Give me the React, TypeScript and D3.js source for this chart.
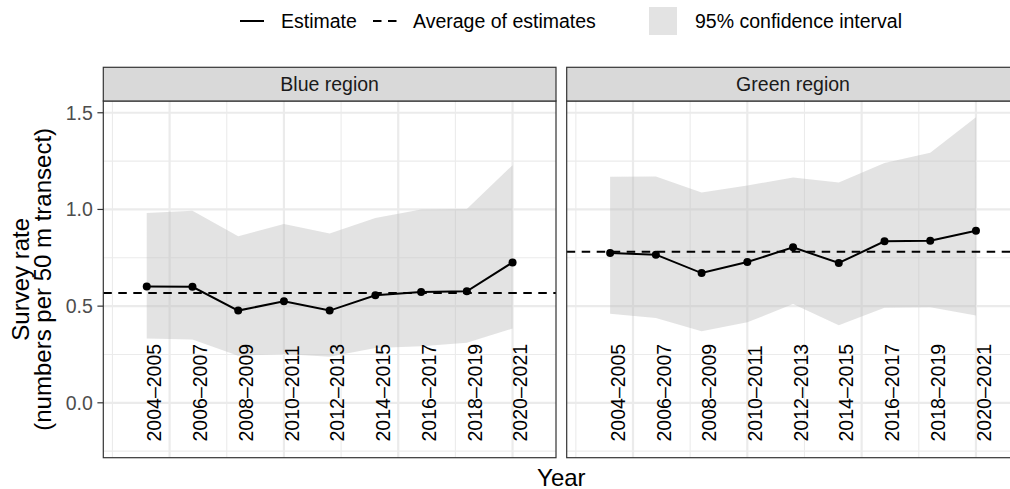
import React from "react";
import * as d3 from "d3";

// Survey periods (first year of each two-year period)
const years = [2004, 2006, 2008, 2010, 2012, 2014, 2016, 2018, 2020];
const periodLabels = [
  "2004–2005", "2006–2007", "2008–2009", "2010–2011", "2012–2013",
  "2014–2015", "2016–2017", "2018–2019", "2020–2021",
];

const regionNames = ["Blue region", "Green region"];

// Blue region estimates and 95% CI
const blueEstimate = [0.602, 0.6, 0.477, 0.525, 0.477, 0.556, 0.573, 0.577, 0.726];
const blueLower = [0.332, 0.327, 0.244, 0.253, 0.238, 0.284, 0.292, 0.31, 0.384];
const blueUpper = [0.981, 0.993, 0.862, 0.925, 0.876, 0.956, 1.0, 1.002, 1.229];

// Green region estimates and 95% CI
const greenEstimate = [0.775, 0.766, 0.671, 0.728, 0.804, 0.723, 0.835, 0.838, 0.89];
const greenLower = [0.46, 0.439, 0.37, 0.416, 0.511, 0.401, 0.491, 0.494, 0.452];
const greenUpper = [1.169, 1.171, 1.088, 1.124, 1.165, 1.139, 1.24, 1.293, 1.477];

const yTicks = [0, 0.5, 1.0, 1.5];
const yTickLabels = ["0.0", "0.5", "1.0", "1.5"];
const yMinorTicks = [-0.25, 0.25, 0.75, 1.25];
const xMajorTicks = [2005, 2010, 2015, 2020];
const xMinorTicks = [2002.5, 2007.5, 2012.5, 2017.5];

const labelY = -0.2;

const legendItems = ["Estimate", "Average of estimates", "95% confidence interval"];

const FONT = "'Liberation Sans', Arial, Helvetica, sans-serif";

const W = 1010;
const H = 489;
const stripTop = 67.3;
const panelTop = 101;
const panelBottom = 457.7;
const panelLefts = [103.3, 566.7];
const panelW = 452.7;

function expand(lo: number, hi: number, m = 0.05): [number, number] {
  const d = (hi - lo) * m;
  return [lo - d, hi + d];
}

const panels = [
  { name: regionNames[0], est: blueEstimate, lo: blueLower, hi: blueUpper },
  { name: regionNames[1], est: greenEstimate, lo: greenLower, hi: greenUpper },
];

const xScale = d3
  .scaleLinear()
  .domain(expand(d3.min(years)! - 1, d3.max(years)! + 1))
  .range([0, panelW]);

const yMax = d3.max([...blueUpper, ...greenUpper])!;
const yScale = d3
  .scaleLinear()
  .domain(expand(labelY, yMax))
  .range([panelBottom, panelTop]);

function Panel({ p, left }: { p: (typeof panels)[number]; left: number }) {
  const rows = years.map((yr, i) => ({ yr, est: p.est[i], lo: p.lo[i], hi: p.hi[i] }));
  const area = d3
    .area<(typeof rows)[number]>()
    .x((d) => xScale(d.yr))
    .y0((d) => yScale(d.lo))
    .y1((d) => yScale(d.hi));
  const line = d3
    .line<(typeof rows)[number]>()
    .x((d) => xScale(d.yr))
    .y((d) => yScale(d.est));
  const avg = d3.mean(p.est)!;
  const ph = panelBottom - panelTop;
  return (
    <g transform={`translate(${left},0)`}>
      <rect x={0} y={panelTop} width={panelW} height={ph} fill="#ffffff" />
      {/* minor grid */}
      {yMinorTicks.map((t) => (
        <line key={"ym" + t} x1={0} x2={panelW} y1={yScale(t)} y2={yScale(t)} stroke="#ebebeb" strokeWidth={1.1} />
      ))}
      {xMinorTicks.map((t) => (
        <line key={"xm" + t} x1={xScale(t)} x2={xScale(t)} y1={panelTop} y2={panelBottom} stroke="#ebebeb" strokeWidth={1.1} />
      ))}
      {/* major grid */}
      {yTicks.map((t) => (
        <line key={"yM" + t} x1={0} x2={panelW} y1={yScale(t)} y2={yScale(t)} stroke="#ebebeb" strokeWidth={2.2} />
      ))}
      {xMajorTicks.map((t) => (
        <line key={"xM" + t} x1={xScale(t)} x2={xScale(t)} y1={panelTop} y2={panelBottom} stroke="#ebebeb" strokeWidth={2.2} />
      ))}
      {/* confidence ribbon */}
      <path d={area(rows)!} fill="#b8b8b8" fillOpacity={0.4} />
      {/* average of estimates */}
      <line x1={0} x2={panelW} y1={yScale(avg)} y2={yScale(avg)} stroke="#000" strokeWidth={2} strokeDasharray="8.5,6.5" />
      {/* estimates */}
      <path d={line(rows)!} fill="none" stroke="#000" strokeWidth={2} />
      {rows.map((d) => (
        <circle key={"pt" + d.yr} cx={xScale(d.yr)} cy={yScale(d.est)} r={4} fill="#000" />
      ))}
      {/* period labels */}
      {rows.map((d, i) => (
        <text
          key={"lb" + d.yr}
          transform={`translate(${xScale(d.yr) + 7.7},${yScale(labelY)}) rotate(-90)`}
          textAnchor="start"
          dominantBaseline="central"
          fontFamily={FONT}
          fontSize={19.5}
          fill="#000"
        >
          {periodLabels[i]}
        </text>
      ))}
      {/* panel border */}
      <rect x={0} y={panelTop} width={panelW} height={ph} fill="none" stroke="#333333" strokeWidth={1.2} />
      {/* strip */}
      <rect x={0} y={stripTop} width={panelW} height={panelTop - stripTop} fill="#d9d9d9" stroke="#333333" strokeWidth={1.2} />
      <text
        x={panelW / 2}
        y={(stripTop + panelTop) / 2}
        textAnchor="middle"
        dominantBaseline="central"
        fontFamily={FONT}
        fontSize={19.5}
        fill="#1a1a1a"
      >
        {p.name}
      </text>
    </g>
  );
}

export default function App() {
  const legendY = 21;
  return (
    <div style={{ position: "absolute", left: 0, top: 0, width: W, height: H, overflow: "hidden" }}>
      <svg width={W} height={H} style={{ display: "block", background: "#fff" }}>
        <rect x={0} y={0} width={W} height={H} fill="#fff" />
        {/* legend */}
        <g fontFamily={FONT} fontSize={19.5} fill="#000">
          <line x1={240} x2={264} y1={legendY} y2={legendY} stroke="#000" strokeWidth={2} />
          <text x={281} y={legendY} dominantBaseline="central">{legendItems[0]}</text>
          <line x1={373} x2={398} y1={legendY} y2={legendY} stroke="#000" strokeWidth={2} strokeDasharray="8.5,6.5" />
          <text x={413} y={legendY} dominantBaseline="central">{legendItems[1]}</text>
          <rect x={649} y={legendY - 14} width={28} height={28} fill="#b8b8b8" fillOpacity={0.4} />
          <text x={695} y={legendY} dominantBaseline="central">{legendItems[2]}</text>
        </g>

        {panels.map((p, i) => (
          <Panel key={p.name} p={p} left={panelLefts[i]} />
        ))}

        {/* y axis ticks and labels */}
        {yTicks.map((t, i) => (
          <g key={"yt" + t}>
            <line x1={panelLefts[0] - 5.9} x2={panelLefts[0]} y1={yScale(t)} y2={yScale(t)} stroke="#333333" strokeWidth={1.2} />
            <text
              x={panelLefts[0] - 10.5}
              y={yScale(t)}
              textAnchor="end"
              dominantBaseline="central"
              fontFamily={FONT}
              fontSize={19.5}
              fill="#4d4d4d"
            >
              {yTickLabels[i]}
            </text>
          </g>
        ))}

        {/* axis titles */}
        <text
          x={(panelLefts[0] + panelLefts[1] + panelW) / 2}
          y={485.5}
          textAnchor="middle"
          fontFamily={FONT}
          fontSize={24}
          fill="#000"
        >
          Year
        </text>
        <g transform={`translate(0,${(panelTop + panelBottom) / 2})`} fontFamily={FONT} fontSize={24} fill="#000">
          <text transform="translate(29,0) rotate(-90)" textAnchor="middle">Survey rate</text>
          <text transform="translate(50.6,0) rotate(-90)" textAnchor="middle">(numbers per 50 m transect)</text>
        </g>
      </svg>
    </div>
  );
}
